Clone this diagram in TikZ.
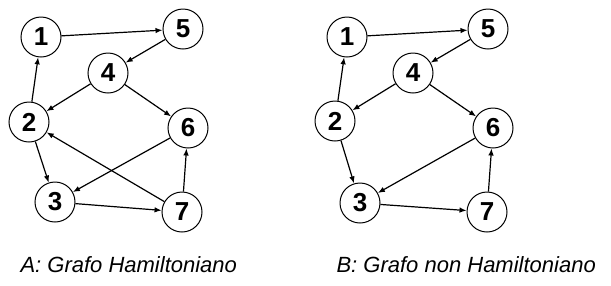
\documentclass[tikz,border=0pt]{standalone}
\usepackage{fontspec}
\setmainfont{Liberation Sans}
\usetikzlibrary{arrows.meta}
\begin{document}
\begin{tikzpicture}[x=1pt,y=-1pt,
  vertex/.style={circle,draw,line width=1pt,minimum size=40pt,inner sep=0pt,
    font=\fontsize{26}{26}\selectfont\bfseries},
  arc/.style={line width=1.2pt,-{Latex[length=7pt,width=5.5pt]}},
  caption/.style={font=\fontsize{22}{22}\selectfont\itshape,anchor=west}]
\useasboundingbox (0,0) rectangle (611,285);
% Hamiltonian graph
\begin{scope}
  \node[vertex] (a1) at (41,37) {1};
  \node[vertex] (a5) at (183,29) {5};
  \node[vertex] (a4) at (108,73) {4};
  \node[vertex] (a2) at (29,122) {2};
  \node[vertex] (a6) at (188,128) {6};
  \node[vertex] (a3) at (55,202) {3};
  \node[vertex] (a7) at (182,212) {7};
  \draw[arc] (a1) -- (a5);
  \draw[arc] (a5) -- (a4);
  \draw[arc] (a4) -- (a2);
  \draw[arc] (a4) -- (a6);
  \draw[arc] (a2) -- (a1);
  \draw[arc] (a2) -- (a3);
  \draw[arc] (a6) -- (a3);
  \draw[arc] (a7) -- (a2);
  \draw[arc] (a3) -- (a7);
  \draw[arc] (a7) -- (a6);
  \node[caption] (capa) at (17,265) {A: Grafo Hamiltoniano};
\end{scope}
% non-Hamiltonian graph
\begin{scope}[xshift=305pt]
  \node[vertex] (b1) at (42,37) {1};
  \node[vertex] (b5) at (183,29) {5};
  \node[vertex] (b4) at (108,73) {4};
  \node[vertex] (b2) at (30,121) {2};
  \node[vertex] (b6) at (188,128) {6};
  \node[vertex] (b3) at (55,203) {3};
  \node[vertex] (b7) at (182,212) {7};
  \draw[arc] (b1) -- (b5);
  \draw[arc] (b5) -- (b4);
  \draw[arc] (b4) -- (b2);
  \draw[arc] (b4) -- (b6);
  \draw[arc] (b2) -- (b1);
  \draw[arc] (b2) -- (b3);
  \draw[arc] (b6) -- (b3);
  \draw[arc] (b3) -- (b7);
  \draw[arc] (b7) -- (b6);
  \node[caption] (capb) at (28,265) {B: Grafo non Hamiltoniano};
\end{scope}
\end{tikzpicture}
\end{document}
